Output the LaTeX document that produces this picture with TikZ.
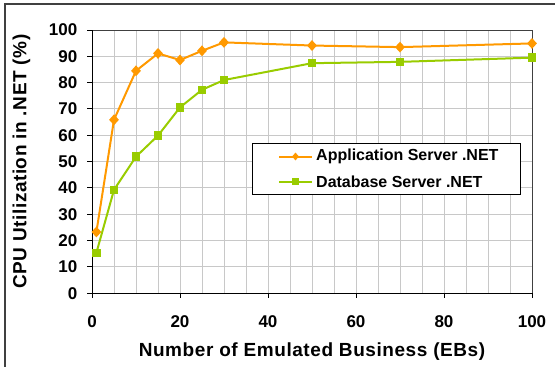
\documentclass[tikz,border=0pt]{standalone}
\usepackage{fontspec}
\setmainfont{Liberation Sans}
\usetikzlibrary{shapes.geometric}

\definecolor{appcol}{RGB}{255,153,0}
\definecolor{dbcol}{RGB}{153,204,0}
\definecolor{gridcol}{RGB}{200,200,200}
\definecolor{framecol}{RGB}{64,64,64}

\tikzset{
  applot/.style={appcol, line width=2pt, line join=round},
  dbplot/.style={dbcol, line width=2pt, line join=round},
  apmark/.style={diamond, fill=appcol, inner sep=0pt, minimum width=10pt, minimum height=11pt},
  dbmark/.style={rectangle, fill=dbcol, inner sep=0pt, minimum size=8.5pt},
  ticklabel/.style={font=\bfseries\fontsize{17}{20}\selectfont, inner sep=0pt},
  axistitle/.style={font=\bfseries\fontsize{19}{22}\selectfont\addfontfeature{LetterSpace=3}, inner sep=0pt},
  legendtext/.style={font=\bfseries\fontsize{16}{19}\selectfont, inner sep=0pt, anchor=west}
}

\begin{document}
\begin{tikzpicture}[x=1pt, y=-1pt]
  \useasboundingbox (0,0) rectangle (555,367);
  \draw[framecol, line width=2pt] (5,367) -- (5,3.5) -- (555,3.5);

  \begin{scope}[shift={(92,293.3)}, x=4.4pt, y=2.633pt]
    \foreach \gx in {5,10,...,95} \draw[gridcol, line width=1pt] (\gx,0) -- (\gx,100);
    \foreach \gy in {10,20,...,90} \draw[gridcol, line width=1pt] (0,\gy) -- (100,\gy);
    \draw[framecol, line width=1pt] (0,100) -- (100,100) -- (100,0);
    \draw[black, line width=1pt] (0,100) -- (0,0) -- (100,0);

    \foreach \gy in {0,10,...,100} {
      \draw[black, line width=1pt] (0,\gy) -- ++(-5.5pt,0);
      \node[ticklabel, anchor=east] (ylab\gy) at ([xshift=-14.5pt]0,\gy) {\gy};
    }
    \foreach \gx in {0,20,...,100} {
      \draw[black, line width=1pt] (\gx,0) -- ++(0,-5pt);
      \node[ticklabel] (xlab\gx) at ([yshift=-28.2pt]\gx,0) {\gx};
    }

    \node[axistitle] (xtitle) at ([yshift=-58.4pt]50,0) {Number of Emulated Business (EBs)};
    \node[axistitle, rotate=90] (ytitle) at ([xshift=-70.5pt]0,50) {CPU Utilization in .NET (\%)};

    \foreach \px/\py [count=\k] in {1/23.3,5/65.9,10/84.5,15/91.1,20/88.6,25/92.1,30/95.3,50/94.1,70/93.5,100/94.9}
      \coordinate (ap\k) at (\px,\py);
    \foreach \px/\py [count=\k] in {1/15.4,5/39.3,10/51.9,15/59.9,20/70.6,25/77.3,30/81.0,50/87.4,70/87.9,100/89.5}
      \coordinate (db\k) at (\px,\py);

    \draw[dbplot] (db1) \foreach \k in {2,...,10} { -- (db\k) };
    \draw[applot] (ap1) \foreach \k in {2,...,10} { -- (ap\k) };
    \foreach \k in {1,...,10} \node[dbmark] (dbm\k) at (db\k) {};
    \foreach \k in {1,...,10} \node[apmark] (apm\k) at (ap\k) {};
  \end{scope}

  \draw[black, fill=white, line width=1pt] (252.7,143) rectangle (520.5,194.3);
  \coordinate (la1) at (279,156.5);   \coordinate (la2) at (312,156.5);
  \coordinate (lb1) at (279,181.7);   \coordinate (lb2) at (312,181.7);
  \draw[applot] (la1) -- (la2);
  \draw[dbplot] (lb1) -- (lb2);
  \node[apmark, minimum width=7pt, minimum height=8pt] (lam) at (295.5,156.5) {};
  \node[dbmark, minimum size=6.5pt] (lbm) at (295.5,181.7) {};
  \node[legendtext] (latext) at (316,156.5) {Application Server .NET};
  \node[legendtext] (lbtext) at (316,181.7) {Database Server .NET};
\end{tikzpicture}
\end{document}
